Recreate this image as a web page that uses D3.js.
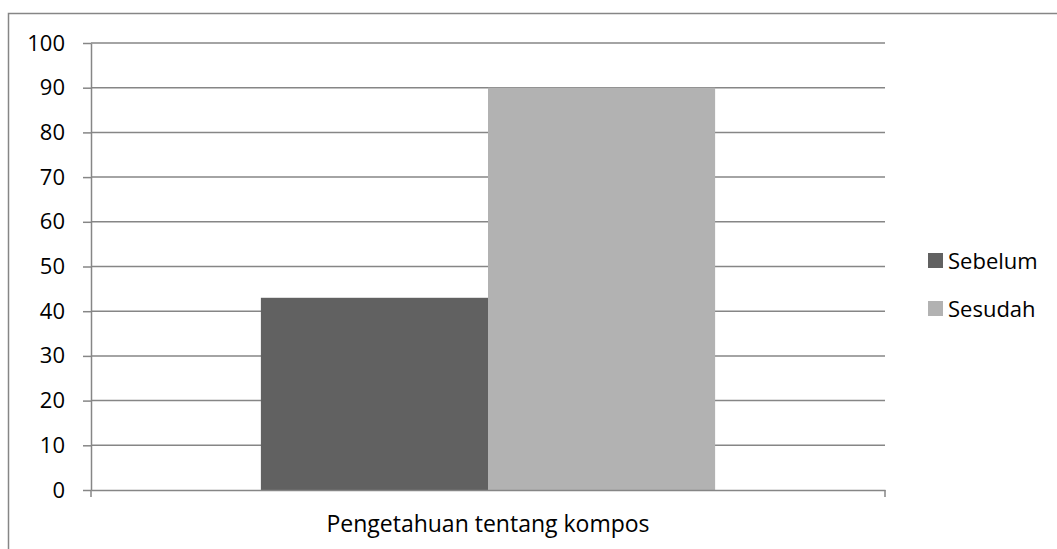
<!DOCTYPE html>
<html lang="id">
<head>
<meta charset="UTF-8">
<title>Pengetahuan tentang kompos</title>
<script src="https://cdn.jsdelivr.net/npm/d3@7"></script>
<style>
  body { margin: 0; background: #fff; }
  text { font-family: "Open Sans", "Noto Sans", sans-serif; fill: #000; }
</style>
</head>
<body>
<script>
  // data
  var categories = ['Pengetahuan tentang kompos'];
  var seriesNames = ['Sebelum', 'Sesudah'];
  var sebelum = [43];
  var sesudah = [90];
  var yTicks = [0, 10, 20, 30, 40, 50, 60, 70, 80, 90, 100];
  var colors = ['#616161', '#b2b2b2'];

  var width = 1057, height = 549;
  var margin = {top: 43, right: 172, bottom: 59, left: 91};
  var innerW = width - margin.left - margin.right;
  var innerH = height - margin.top - margin.bottom;

  var svg = d3.select('body').append('svg')
      .attr('width', width)
      .attr('height', height);

  // outer chart frame (cut off on the right and bottom)
  svg.append('rect')
      .attr('x', 8.5).attr('y', 13.5)
      .attr('width', width).attr('height', height)
      .attr('fill', 'none').attr('stroke', '#868686').attr('stroke-width', 1.5);

  var g = svg.append('g').attr('transform', 'translate(' + margin.left + ',' + margin.top + ')');

  var y = d3.scaleLinear().domain([0, 100]).range([innerH, 0]);
  var x0 = d3.scaleBand().domain(categories).range([0, innerW]).paddingInner(0).paddingOuter(0.374);
  var x1 = d3.scaleBand().domain(seriesNames).range([0, x0.bandwidth()]);

  // gridlines
  g.selectAll('.grid').data(yTicks.slice(1)).enter().append('line')
      .attr('x1', 0).attr('x2', innerW)
      .attr('y1', function(d) { return y(d); })
      .attr('y2', function(d) { return y(d); })
      .attr('stroke', '#868686').attr('stroke-width', 1.5);

  // bars
  var rows = categories.map(function(c, i) {
    return {cat: c, vals: [sebelum[i], sesudah[i]]};
  });
  var grp = g.selectAll('.cat').data(rows).enter().append('g')
      .attr('transform', function(d) { return 'translate(' + x0(d.cat) + ',0)'; });
  grp.selectAll('rect').data(function(d) {
        return d.vals.map(function(v, j) { return {name: seriesNames[j], v: v, c: colors[j]}; });
      })
      .enter().append('rect')
      .attr('x', function(d) { return x1(d.name); })
      .attr('width', x1.bandwidth())
      .attr('y', function(d) { return y(d.v); })
      .attr('height', function(d) { return innerH - y(d.v); })
      .attr('fill', function(d) { return d.c; });

  // y axis
  var yAxis = g.append('g')
      .call(d3.axisLeft(y).tickValues(yTicks).tickSize(8).tickPadding(18).tickSizeOuter(0));
  yAxis.selectAll('line, path').attr('stroke', '#868686').attr('stroke-width', 1.5);
  yAxis.selectAll('text').attr('font-size', 22).style('font-family', '"Open Sans", sans-serif');

  // x axis
  var xAxis = g.append('g').attr('transform', 'translate(0,' + innerH + ')')
      .call(d3.axisBottom(x0).tickSize(0));
  xAxis.select('.domain').attr('stroke', '#868686').attr('stroke-width', 1.5);
  xAxis.selectAll('text').attr('font-size', 23).attr('y', 42).attr('dy', 0)
      .style('font-family', '"Open Sans", sans-serif');
  // end ticks at both sides of the category axis
  xAxis.selectAll('.edge').data([0, innerW]).enter().append('line')
      .attr('x1', function(d) { return d; }).attr('x2', function(d) { return d; })
      .attr('y1', 0).attr('y2', 7)
      .attr('stroke', '#868686').attr('stroke-width', 1.5);

  // legend
  var legend = svg.append('g').attr('transform', 'translate(928,253)');
  var item = legend.selectAll('g').data(seriesNames).enter().append('g')
      .attr('transform', function(d, i) { return 'translate(0,' + i * 48 + ')'; });
  item.append('rect').attr('width', 15).attr('height', 15)
      .attr('fill', function(d, i) { return colors[i]; });
  item.append('text').attr('x', 20).attr('y', 16)
      .attr('font-size', 22)
      .text(function(d) { return d; });
</script>
</body>
</html>
